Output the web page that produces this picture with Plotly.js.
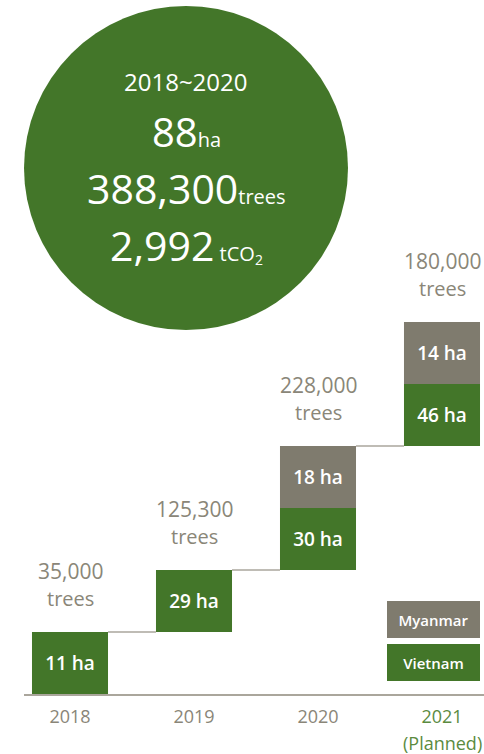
<!DOCTYPE html>
<html>
<head>
<meta charset="utf-8">
<script src="https://cdn.plot.ly/plotly-3.0.1.min.js"></script>
<style>
  html, body { margin: 0; padding: 0; background: #ffffff; }
  #chart { width: 484px; height: 754px; }
</style>
</head>
<body>
<div id="chart"></div>
<script>
// ---- data ----
const years = ['2018', '2019', '2020', '2021'];
const yearNotes = ['', '', '', '(Planned)'];
const vietnamHa = [11, 29, 30, 46];
const myanmarHa = [0, 0, 18, 14];
const treesPlanted = ['35,000', '125,300', '228,000', '180,000'];
const summaryPeriod = '2018~2020';
const summaryHa = '88';
const summaryTrees = '388,300';
const summaryCO2 = '2,992';
const seriesNames = ['Myanmar', 'Vietnam'];

// ---- styles ----
const GREEN = '#437629';
const GREY = '#7f7b6e';
const TEXTGREY = '#8a8678';
const PLANGREEN = '#5b8b3f';
const LINEGREY = '#aaa69c';
const FONT = 'Open Sans, Noto Sans, sans-serif';
const W = 484, H = 754, ML = 24, MB = 60;
const PW = W - ML, PH = H - MB;
const STEP_PX = 62;
const BARW = 0.613;

const px2x = p => (p - ML) / PW;
const px2y = p => 1 - p / PH;

// Step layout: every planted segment is drawn as one equal step of the staircase.
let level = 0;
const vBase = [], mBase = [], vStep = [], mStep = [], tops = [];
years.forEach((y, i) => {
  vBase.push(level); vStep.push(vietnamHa[i] > 0 ? 1 : 0); level += vStep[i];
  mBase.push(level); mStep.push(myanmarHa[i] > 0 ? 1 : 0); level += mStep[i];
  tops.push(level);
});
const idx = years.map((_, i) => i);
const mIdx = idx.filter(i => myanmarHa[i] > 0);

const barText = {size: 19, color: '#ffffff', family: FONT, weight: 600};

const traces = [
  {
    type: 'bar', name: seriesNames[1], x: idx, y: vStep, base: vBase, width: BARW,
    marker: {color: GREEN, line: {width: 0}},
    text: vietnamHa.map(v => v + ' ha'), textposition: 'inside', insidetextanchor: 'middle',
    textangle: 0, constraintext: 'none', textfont: barText, hoverinfo: 'skip'
  },
  {
    type: 'bar', name: seriesNames[0], x: mIdx, y: mIdx.map(i => mStep[i]), base: mIdx.map(i => mBase[i]), width: BARW,
    marker: {color: GREY, line: {width: 0}},
    text: mIdx.map(i => myanmarHa[i] + ' ha'), textposition: 'inside', insidetextanchor: 'middle',
    textangle: 0, constraintext: 'none', textfont: barText, hoverinfo: 'skip'
  }
];

// connectors between consecutive bars
const cx = [], cy = [];
for (let i = 0; i < years.length - 1; i++) {
  cx.push(i + BARW / 2, i + 1 - BARW / 2, null);
  cy.push(tops[i], tops[i], null);
}
traces.push({type: 'scatter', mode: 'lines', x: cx, y: cy, line: {color: LINEGREY, width: 1.5},
  hoverinfo: 'skip', showlegend: false});

const annotations = [];
years.forEach((y, i) => {
  annotations.push({x: i, y: tops[i], xref: 'x', yref: 'y', text: treesPlanted[i], showarrow: false,
    yanchor: 'middle', yshift: 61, font: {family: FONT, size: 21, color: TEXTGREY}});
  annotations.push({x: i, y: tops[i], xref: 'x', yref: 'y', text: 'trees', showarrow: false,
    yanchor: 'middle', yshift: 34, font: {family: FONT, size: 20, color: TEXTGREY}});
  if (yearNotes[i]) {
    annotations.push({x: i, y: px2y(742.5), xref: 'x', yref: 'paper', text: yearNotes[i], showarrow: false,
      yanchor: 'middle', font: {family: FONT, size: 18, color: PLANGREEN}});
  }
});

// summary circle texts
const cxp = px2x(186);
annotations.push({x: cxp, y: px2y(82), xref: 'paper', yref: 'paper', text: summaryPeriod, showarrow: false,
  yanchor: 'middle', font: {family: FONT, size: 24, color: '#ffffff'}});
annotations.push({x: cxp, y: px2y(131), xref: 'paper', yref: 'paper',
  text: summaryHa + "<span style='font-size:20px'>ha</span>", showarrow: false,
  yanchor: 'middle', font: {family: FONT, size: 40, color: '#ffffff'}});
annotations.push({x: cxp, y: px2y(188), xref: 'paper', yref: 'paper',
  text: summaryTrees + "<span style='font-size:20px'>trees</span>", showarrow: false,
  yanchor: 'middle', font: {family: FONT, size: 41, color: '#ffffff'}});
annotations.push({x: cxp, y: px2y(245), xref: 'paper', yref: 'paper',
  text: summaryCO2 + "<span style='font-size:20px'> tCO<sub>2</sub></span>", showarrow: false,
  yanchor: 'middle', font: {family: FONT, size: 41, color: '#ffffff'}});

// legend boxes
[[seriesNames[0], GREY, 619.5], [seriesNames[1], GREEN, 662.3]].forEach(([name, col, py]) => {
  annotations.push({x: px2x(433.5), y: px2y(py), xref: 'paper', yref: 'paper', text: name,
    showarrow: false, xanchor: 'center', yanchor: 'middle', width: 93, height: 37,
    bgcolor: col, borderpad: 0, borderwidth: 0,
    font: {family: FONT, size: 15, color: '#ffffff', weight: 600}});
});

const layout = {
  width: W, height: H,
  margin: {l: ML, r: 0, t: 0, b: MB, pad: 0},
  paper_bgcolor: '#ffffff', plot_bgcolor: '#ffffff',
  showlegend: false, barmode: 'overlay',
  xaxis: {
    range: [(ML - 70) / 124, (W - 70) / 124], fixedrange: true,
    showgrid: false, zeroline: false, showline: true, linecolor: LINEGREY, linewidth: 1.5,
    tickvals: idx,
    ticktext: years.map((t, i) => yearNotes[i] ? "<span style='color:" + PLANGREEN + "'>" + t + "</span>" : t),
    ticks: '', ticklabelstandoff: 6, tickfont: {family: FONT, size: 18, color: TEXTGREY}
  },
  yaxis: {range: [0, PH / STEP_PX], visible: false, fixedrange: true},
  shapes: [{type: 'circle', xref: 'paper', yref: 'paper', layer: 'below',
    x0: px2x(24), x1: px2x(348), y0: px2y(330), y1: px2y(6),
    fillcolor: GREEN, line: {width: 0}}],
  annotations: annotations
};

Plotly.newPlot('chart', traces, layout, {displayModeBar: false, staticPlot: true});
</script>
</body>
</html>
